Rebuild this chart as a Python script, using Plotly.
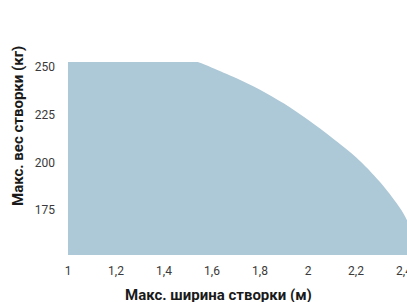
import plotly.graph_objects as go

width_m = [1.0, 1.5, 1.54, 1.6, 1.7, 1.8, 1.9, 2.0, 2.1, 2.2, 2.3, 2.4, 2.45]
weight_kg = [253, 253, 252.6, 249.6, 244.2, 238.1, 230.8, 222.3, 212.9, 202.7, 189.7, 172.7, 158]

x_ticks = [1, 1.2, 1.4, 1.6, 1.8, 2, 2.2, 2.4]
x_tick_text = ["1", "1,2", "1,4", "1,6", "1,8", "2", "2,2", "2,4"]
y_ticks = [175, 200, 225, 250]
y_tick_text = ["175", "200", "225", "250"]

x_title = "Макс. ширина створки (м)"
y_title = "Макс. вес створки (кг)"

fig = go.Figure()
fig.add_trace(go.Scatter(
    x=width_m, y=weight_kg, mode="lines", line=dict(width=0, color="#adc8d6", shape="spline", smoothing=0.9),
    fill="tozeroy", fillcolor="#adc8d6", hoverinfo="skip", showlegend=False,
))

tick_font = dict(family="Roboto, sans-serif", size=12, color="#3a3a3a")
title_font = dict(family="Roboto, sans-serif", size=15, color="#1a1a1a", weight="bold")

fig.update_layout(
    width=407, height=302,
    margin=dict(l=68, r=0, t=62, b=47),
    plot_bgcolor="white", paper_bgcolor="white",
    xaxis=dict(range=[1, 2.4125], tickvals=x_ticks, ticktext=x_tick_text, showgrid=False,
               zeroline=False, showline=False, ticks="", tickfont=tick_font, ticklabelstandoff=7,
               ticklabeloverflow="allow", automargin=False),
    yaxis=dict(range=[151.4, 252.6], tickvals=y_ticks, ticktext=y_tick_text, showgrid=False,
               zeroline=False, showline=False, ticks="", tickfont=tick_font, ticklabelstandoff=12,
               automargin=False),
    annotations=[
        dict(text=x_title, xref="paper", yref="paper", x=(218 - 68) / 339, y=(255 - 295) / 193,
             showarrow=False, font=title_font, xanchor="center", yanchor="middle"),
        dict(text=y_title, xref="paper", yref="paper", x=(18 - 68) / 339, y=(255 - 126) / 193,
             showarrow=False, font=title_font, textangle=-90, xanchor="center", yanchor="middle"),
    ],
)

fig.write_html(
    "out.html",
    config={"displayModeBar": False},
    post_script="document.body.style.margin='0';document.body.style.overflow='hidden';",
)
